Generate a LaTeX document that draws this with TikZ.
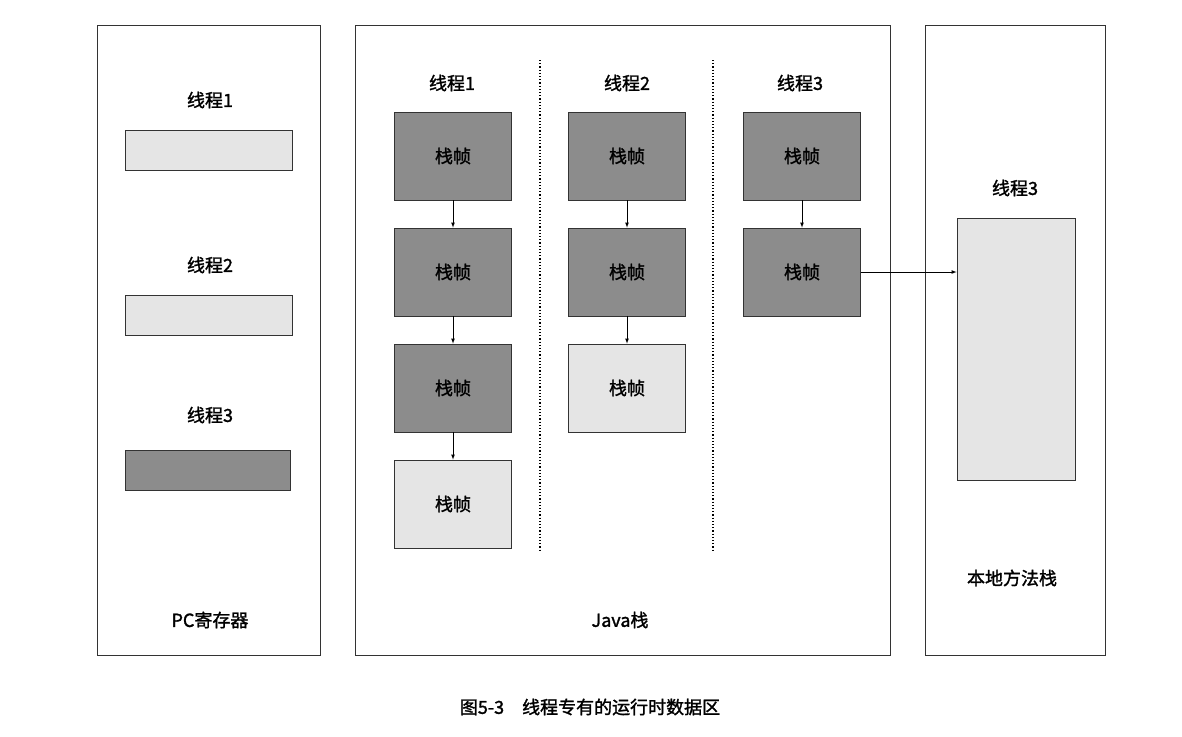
\documentclass[tikz,border=0pt]{standalone}
\usepackage{fontspec}
\setmainfont{Liberation Serif}
\newfontfamily\cjk[FakeBold=1.5]{Noto Sans CJK SC}
\begin{document}
\begin{tikzpicture}[x=1pt,y=-1pt,
 panel/.style={draw=black!80,line width=0.8pt},
 lab/.style={font=\cjk\fontsize{18}{20}\selectfont},
 dk/.style={draw=black!80,fill=black!45,line width=0.8pt,font=\cjk\fontsize{18}{20}\selectfont},
 lt/.style={draw=black!80,fill=black!10,line width=0.8pt,font=\cjk\fontsize{18}{20}\selectfont},
 arr/.style={-latex,line width=0.7pt}]
\useasboundingbox (0,0) rectangle (1182,736);
\fill[white] (0,0) rectangle (1182,736);
% left panel
\draw[panel] (97,25) rectangle (320,655);
\node[lab] (l1) at (210,100) {线程1};
\draw[lt] (125,130) rectangle (292,170);
\node[lab] (l2) at (210,265) {线程2};
\draw[lt] (125,295) rectangle (292,335);
\node[lab] (l3) at (210,415) {线程3};
\draw[dk] (125,450) rectangle (290,490);
\node[lab] (pc) at (210,620) {PC寄存器};
% middle
\draw[panel] (355,25) rectangle (890,655);
\draw[dotted,line width=1.2pt] (540,60) -- (540,550);
\draw[dotted,line width=1.2pt] (713,60) -- (713,550);
\node[lab] (c1) at (452,83) {线程1};
\node[lab] (c2) at (627,83) {线程2};
\node[lab] (c3) at (800,83) {线程3};
\node[dk,minimum width=117pt,minimum height=88pt] (a1) at (453,156) {栈帧};
\node[dk,minimum width=117pt,minimum height=88pt] (a2) at (453,272) {栈帧};
\node[dk,minimum width=117pt,minimum height=88pt] (a3) at (453,388) {栈帧};
\node[lt,minimum width=117pt,minimum height=88pt] (a4) at (453,504) {栈帧};
\node[dk,minimum width=117pt,minimum height=88pt] (b1) at (627,156) {栈帧};
\node[dk,minimum width=117pt,minimum height=88pt] (b2) at (627,272) {栈帧};
\node[lt,minimum width=117pt,minimum height=88pt] (b3) at (627,388) {栈帧};
\node[dk,minimum width=117pt,minimum height=88pt] (d1) at (802,156) {栈帧};
\node[dk,minimum width=117pt,minimum height=88pt] (d2) at (802,272) {栈帧};
\draw[arr] (a1) -- (a2); \draw[arr] (a2) -- (a3); \draw[arr] (a3) -- (a4);
\draw[arr] (b1) -- (b2); \draw[arr] (b2) -- (b3);
\draw[arr] (d1) -- (d2);
\node[lab] (js) at (620,620) {Java栈};
% right
\draw[panel] (925,25) rectangle (1105,655);
\node[lab] (r3) at (1015,188) {线程3};
\node[lt,minimum width=118pt,minimum height=262pt] (nb) at (1016,349) {};
\node[lab] (nm) at (1012,578) {本地方法栈};
\draw[arr] (d2.east) -- (nb.west|-d2.east);
\node[lab] (cap) at (590,707) {图5-3\quad 线程专有的运行时数据区};
\end{tikzpicture}
\end{document}
